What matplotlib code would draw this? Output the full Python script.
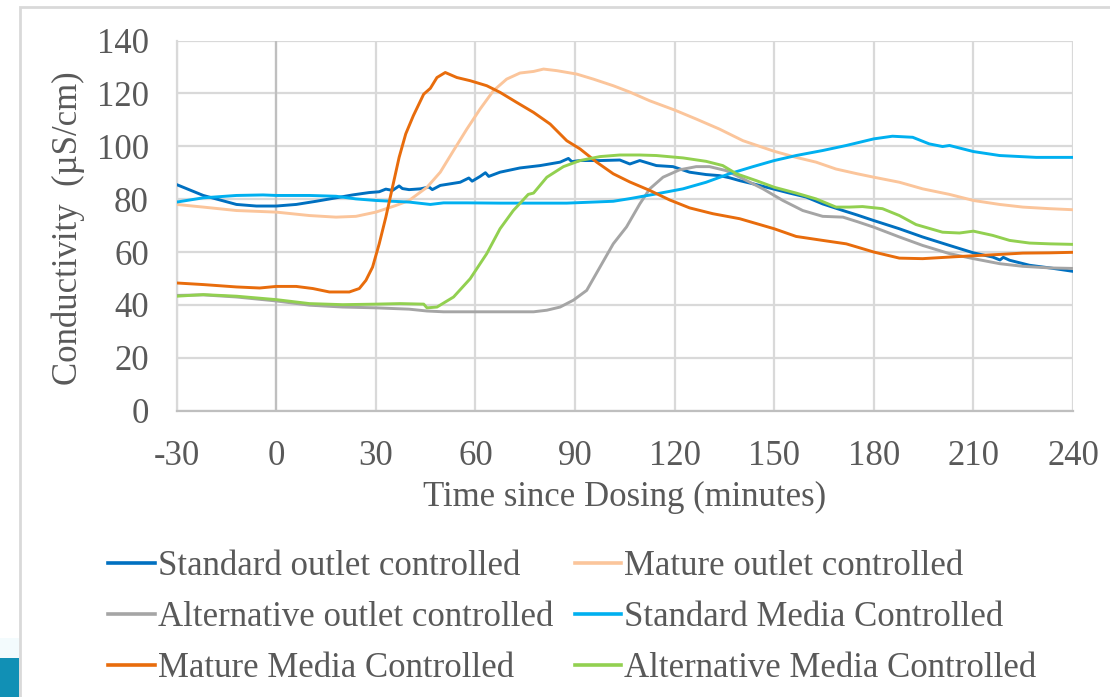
import matplotlib
matplotlib.use("Agg")
import matplotlib.pyplot as plt
from matplotlib.patches import Rectangle
from matplotlib.lines import Line2D

# ---------------- data ----------------
t_std_out = [-30, -22, -12, -6, 0, 6, 12, 18, 23, 28, 31, 33, 35, 37, 38, 40, 43.4, 46, 47,
             49.4, 55.4, 58, 59, 61.4, 63, 64, 67.4, 73.4, 79.5, 85.5, 88, 89, 91.5, 97.5,
             103.5, 106.5, 109.5, 114.5, 119.5, 124.5, 129.5, 133.5, 136.5, 139.6, 144.6,
             149.6, 154.6, 159.6, 164.6, 170.7, 175, 180, 187.7, 194.7, 202.8, 210, 215.8,
             218, 219, 220.9, 226.9, 233, 240]
v_std_out = [85.5, 81.4, 78.0, 77.4, 77.4, 78.0, 79.2, 80.5, 81.6, 82.5, 82.8, 83.8, 83.3,
             85.0, 84.0, 83.6, 83.9, 84.6, 83.6, 85.2, 86.4, 88.0, 86.8, 88.6, 90.0, 88.6,
             90.2, 91.8, 92.7, 94.0, 95.4, 94.2, 94.6, 94.6, 94.8, 93.3, 94.6, 92.7, 92.3,
             90.2, 89.3, 88.9, 88.1, 87.0, 85.5, 83.9, 82.3, 80.8, 78.2, 75.7, 74.0, 71.9,
             68.8, 65.7, 62.5, 59.7, 58.1, 57.0, 58.0, 56.9, 55.0, 54.0, 52.7]

t_mat_out = [-30, -22, -12, 0, 10, 18, 24, 30, 36, 40, 45.4, 49.4, 53.4, 57.4, 61.4, 65.4,
             69.4, 73.4, 77.5, 80.5, 84.5, 90.5, 95.5, 101.5, 106.5, 112.5, 120, 126.5,
             133.5, 140.6, 150, 156.6, 162.6, 168.6, 175, 180, 187.7, 194.7, 202.8, 210,
             217.9, 224.9, 233, 240]
v_mat_out = [78.0, 77.0, 75.7, 75.1, 73.8, 73.2, 73.5, 75.1, 77.6, 79.5, 84.5, 90.2, 98.4,
             106.5, 114.1, 121.0, 125.4, 127.7, 128.3, 129.2, 128.6, 127.3, 125.4, 122.9,
             120.5, 117.2, 113.7, 110.3, 106.5, 102.1, 98.1, 95.8, 94.0, 91.4, 89.6, 88.3,
             86.4, 83.9, 81.8, 79.5, 78.0, 77.0, 76.4, 76.0]

t_alt_out = [-30, -22, -12, 0, 10, 20, 30, 40, 45.4, 50.4, 57.4, 67.4, 77.5, 81.5, 85.5,
             89.5, 93.5, 97.5, 101.5, 105.5, 109.5, 112.5, 116.5, 121.5, 126.5, 130.5,
             135.5, 140.6, 146.6, 152.6, 158.6, 164.6, 170.7, 175, 180, 187.7, 194.7,
             202.8, 210, 217.9, 224.9, 233, 240]
v_alt_out = [43.6, 43.8, 43.0, 41.5, 39.9, 39.2, 38.9, 38.4, 37.7, 37.4, 37.4, 37.4, 37.4,
             38.0, 39.2, 41.8, 45.5, 54.3, 63.1, 69.5, 78.2, 83.9, 88.3, 91.1, 92.3, 92.3,
             90.8, 87.7, 83.9, 79.5, 75.7, 73.5, 73.2, 71.5, 69.4, 65.7, 62.5, 59.4, 57.5,
             55.6, 54.6, 54.0, 53.8]

t_std_med = [-30, -22, -12, -4, 0, 10, 18, 24, 30, 40, 46.4, 50.4, 57.4, 67.4, 77.5, 87.5,
             95.5, 101.5, 106.5, 114.5, 122.5, 129.5, 136.5, 143.6, 150, 156.6, 164.6,
             171.7, 180, 185.6, 191.7, 196.7, 200.7, 202.8, 210, 217.9, 228.9, 240]
v_std_med = [78.9, 80.5, 81.4, 81.6, 81.4, 81.4, 81.1, 80.1, 79.5, 78.9, 78.0, 78.6, 78.6,
             78.5, 78.5, 78.5, 78.9, 79.2, 80.2, 82.0, 83.9, 86.4, 89.6, 92.3, 94.6, 96.5,
             98.4, 100.3, 102.8, 103.8, 103.4, 100.9, 99.9, 100.3, 98.0, 96.5, 95.8, 95.8]

t_mat_med = [-30, -22, -12, -5, 0, 6, 11, 16, 22, 25, 27, 29, 31, 33, 35, 37, 39, 41.3,
             44.4, 46.4, 48.4, 50.9, 54.4, 58.4, 63.4, 67.4, 72.4, 77.5, 82.5, 87.5, 91.5,
             96.5, 101.5, 106.5, 112.5, 118.5, 124.5, 131.5, 139.6, 150, 156.6, 164.6,
             171.7, 176, 180, 187.7, 194.7, 202.8, 210, 217.9, 224.9, 233, 240]
v_mat_med = [48.3, 47.7, 46.8, 46.4, 47.0, 47.0, 46.2, 44.9, 44.9, 46.2, 49.3, 54.3, 63.1,
             73.2, 84.5, 95.8, 104.7, 111.6, 119.7, 121.9, 126.0, 127.9, 126.0, 124.8, 122.9,
             120.4, 116.6, 112.8, 108.4, 102.1, 99.0, 94.0, 89.6, 86.5, 83.3, 79.7, 76.7,
             74.5, 72.6, 68.8, 65.9, 64.4, 63.1, 61.5, 60.0, 57.7, 57.5, 58.1, 58.6, 59.1,
             59.6, 59.7, 59.9]

t_alt_med = [-30, -22, -12, 0, 10, 20, 30, 37.3, 44.4, 45.4, 48.4, 53.4, 58.4, 63.4, 67.4,
             71.4, 75.9, 77.5, 81.5, 86.5, 91.5, 97.5, 103.5, 109.5, 114.5, 122.5, 129.5,
             134.5, 138.6, 144.6, 150, 156.6, 162.6, 168.6, 172.6, 176.6, 182.6, 187.7,
             192.7, 200.7, 205.8, 210, 215.8, 220.9, 226.9, 233, 240]
v_alt_med = [43.3, 43.9, 43.3, 42.0, 40.5, 40.1, 40.3, 40.5, 40.3, 38.9, 39.2, 43.0, 49.9,
             59.4, 68.8, 75.7, 81.8, 82.3, 88.3, 92.3, 94.6, 96.1, 96.7, 96.7, 96.5, 95.6,
             94.3, 92.7, 89.6, 87.0, 84.5, 82.3, 80.1, 77.0, 77.0, 77.2, 76.4, 73.8, 70.4,
             67.5, 67.2, 67.9, 66.3, 64.4, 63.4, 63.1, 62.9]

series_names = ["Standard outlet controlled", "Mature outlet controlled",
                "Alternative outlet controlled", "Standard Media Controlled",
                "Mature Media Controlled", "Alternative Media Controlled"]
series_t = [t_std_out, t_mat_out, t_alt_out, t_std_med, t_mat_med, t_alt_med]
series_v = [v_std_out, v_mat_out, v_alt_out, v_std_med, v_mat_med, v_alt_med]
series_colors = ["#0070c0", "#fbc59b", "#a5a5a5", "#00b0f0", "#e86c0c", "#92d050"]

x_ticks = [-30, 0, 30, 60, 90, 120, 150, 180, 210, 240]
y_ticks = [0, 20, 40, 60, 80, 100, 120, 140]

# ---------------- figure ----------------
W, H = 1110, 697
plt.rcParams['font.family'] = ['Liberation Serif', 'DejaVu Serif']
TXT = "#595959"
FS = 25

fig = plt.figure(figsize=(W / 100, H / 100), dpi=100)

# outer chart frame and slide decoration
fig.patches.append(Rectangle((19.5 / W, -0.2), 1.2, 1.2 - 6.5 / H,
                             transform=fig.transFigure, fill=False,
                             edgecolor="#d9d9d9", linewidth=2.0, zorder=0))
fig.patches.append(Rectangle((0, 0), 18.5 / W, (H - 657.5) / H,
                             transform=fig.transFigure, facecolor="#1190b5",
                             edgecolor="none", zorder=1))
fig.patches.append(Rectangle((0, (H - 657.5) / H), 18.5 / W, 20 / H,
                             transform=fig.transFigure, facecolor="#f3fbfd",
                             edgecolor="none", zorder=1))

left, right = 176.7 / W, 1073.0 / W
bottom, top = 1 - 410.7 / H, 1 - 40.5 / H
ax = fig.add_axes([left, bottom, right - left, top - bottom])

for t, v, c in zip(series_t, series_v, series_colors):
    ax.plot(t, v, color=c, linewidth=2.1, solid_joinstyle="round", zorder=3)

ax.set_xlim(-30, 240)
ax.set_ylim(0, 140)
ax.set_xticks(x_ticks)
ax.set_yticks(y_ticks)
ax.grid(True, color="#d9d9d9", linewidth=1.6, zorder=0)
ax.set_axisbelow(True)
ax.axvline(0, color="#bfbfbf", linewidth=1.6, zorder=1)
for s in ["top", "right"]:
    ax.spines[s].set_visible(False)
ax.spines["left"].set_color("#d9d9d9")
ax.spines["left"].set_linewidth(1.6)
ax.spines["bottom"].set_color("#bfbfbf")
ax.spines["bottom"].set_linewidth(1.6)
ax.tick_params(axis="both", length=0, labelsize=FS, labelcolor=TXT)
ax.tick_params(axis="x", pad=21)
ax.tick_params(axis="y", pad=20)
ax.set_xticklabels([str(x) for x in x_ticks])

fig.text(625 / W, 1 - 497 / H, "Time since Dosing (minutes)", ha="center", va="center",
         fontsize=FS, color=TXT)
fig.text(68 / W, 1 - 228 / H, "Conductivity  (\u00b5S/cm)", ha="center", va="center",
         rotation=90, fontsize=FS, color=TXT)

# legend (row-wise order as in the reference)
handles = [Line2D([], [], color=c, linewidth=2.6) for c in series_colors]
order = [0, 2, 4, 1, 3, 5]
leg = fig.legend([handles[i] for i in order], [series_names[i] for i in order],
                 ncol=2, loc="upper left", bbox_to_anchor=(108 / W, 1 - 550 / H),
                 frameon=False, fontsize=FS, labelcolor=TXT, handlelength=1.35,
                 handletextpad=0.08, columnspacing=0.62, labelspacing=0.52,
                 borderpad=0, borderaxespad=0)

fig.savefig("out.png", dpi=100, facecolor="white")
